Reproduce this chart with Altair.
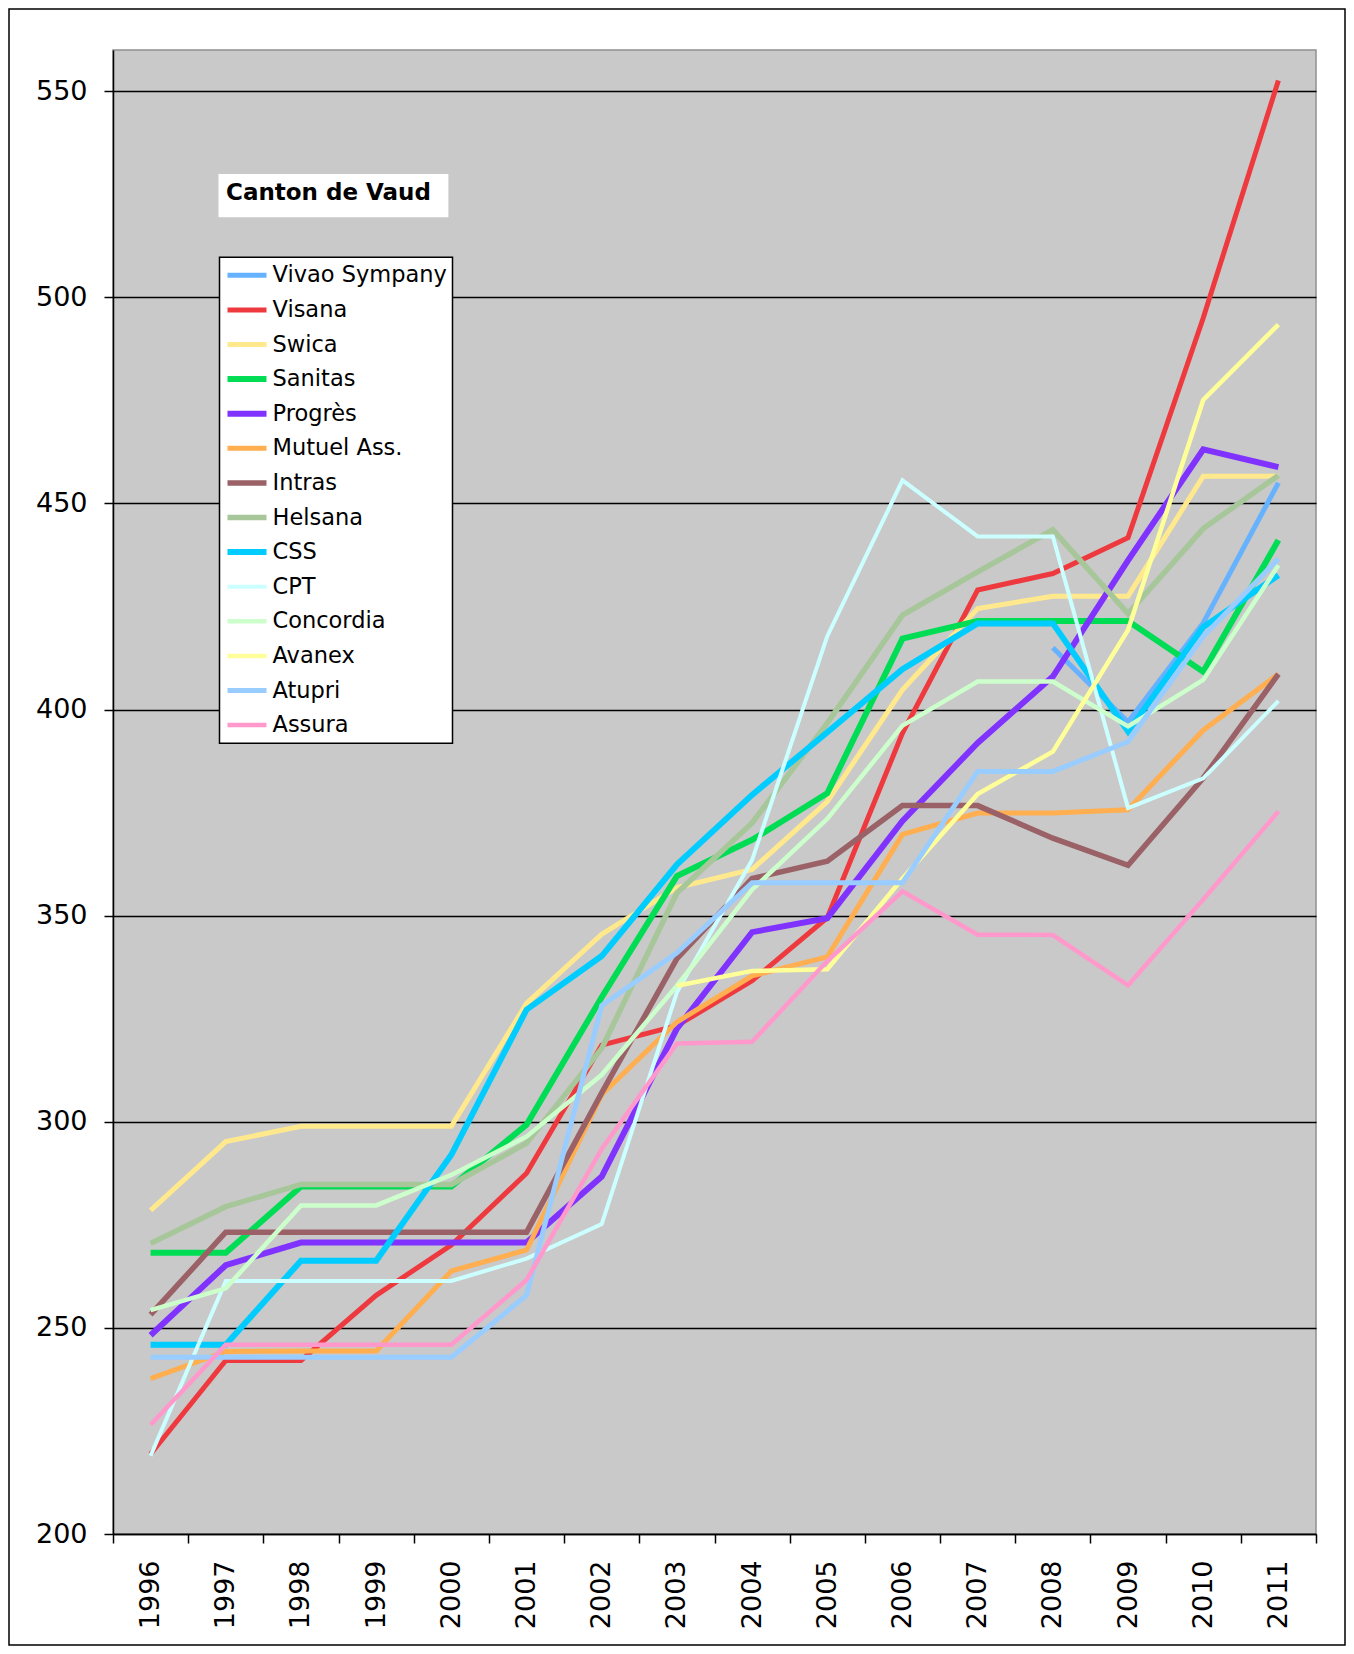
import altair as alt
import pandas as pd

years = [str(y) for y in range(1996, 2012)]

series_names = ["Vivao Sympany", "Visana", "Swica", "Sanitas", "Progrès", "Mutuel Ass.",
                "Intras", "Helsana", "CSS", "CPT", "Concordia", "Avanex", "Atupri", "Assura"]

vivao = [None] * 12 + [415, 397, 421, 455]
visana = [219.4, 242.1, 242.1, 257.9, 270.1, 287.5, 318.6, 323.3, 334.2, 349.5, 394.3, 429, 433, 441.7, 495, 552.6]
swica = [278.5, 295.2, 298.9, 298.9, 298.9, 328.7, 345.5, 356.8, 361.2, 377.7, 404.8, 424.5, 427.5, 427.5, 456.6, 456.6]
sanitas = [268.2, 268.2, 284.3, 284.3, 284.3, 299.3, 330.2, 359.6, 368.4, 379.7, 417.2, 421.5, 421.5, 421.5, 409.2, 441.1]
progres = [248.2, 265.2, 270.7, 270.7, 270.7, 270.7, 286.7, 322.6, 346, 349.4, 373, 391.9, 408, 436.2, 463.1, 458.8]
mutuel = [237.7, 244.3, 244.4, 244.4, 263.8, 268.9, 306.6, 324.2, 335.4, 340, 369.7, 374.9, 374.9, 375.7, 395, 408.6]
intras = [253.2, 273.2, 273.2, 273.2, 273.2, 273.2, 307, 339.6, 359, 363.2, 376.7, 376.7, 368.8, 362.2, 383.4, 408.6]
helsana = [270.5, 279.4, 284.8, 284.8, 284.8, 294.8, 317.8, 355.5, 372.5, 396.7, 422.9, 433.4, 443.6, 423.3, 443.9, 456.8]
css = [245.9, 245.9, 266.3, 266.3, 292.0, 327.2, 340.2, 362.4, 379.3, 394.5, 409.8, 420.9, 420.9, 394.7, 420, 432.6]
cpt = [219.0, 261.4, 261.4, 261.4, 261.4, 266.8, 275.2, 331.4, 363.5, 417.8, 455.6, 442.0, 442.0, 376.1, 383.3, 402.1]
concordia = [254.3, 259.6, 279.7, 279.7, 287.1, 296.4, 311.4, 333, 356.3, 373.5, 396.1, 406.8, 406.8, 395.9, 407.2, 435]
avanex = [None] * 7 + [333, 336.6, 337, 359, 379.5, 389.8, 419.3, 475.1, 493.4]
atupri = [242.9, 242.9, 242.9, 242.9, 242.9, 257.9, 328.2, 341, 358, 358, 358, 385, 385, 392.2, 417.7, 436.6]
assura = [226.5, 245.9, 245.9, 245.9, 245.9, 261.6, 293.4, 319, 319.4, 339, 355.9, 345.4, 345.3, 333.1, 353.9, 375.3]

all_series = [vivao, visana, swica, sanitas, progres, mutuel, intras, helsana,
              css, cpt, concordia, avanex, atupri, assura]

colors = ["#66B2FF", "#EE3A3F", "#FFE98C", "#00DD55", "#8033FF", "#FFAE50", "#9A6166",
          "#A7C79B", "#00CCFF", "#CCFFFF", "#CCFFCC", "#FFFF99", "#99CCFF", "#FF99CC"]
widths = [5, 5, 5, 6, 6, 5, 5.5, 5.5, 6, 4, 4.5, 4.5, 5, 4.5]

y_ticks = [200, 250, 300, 350, 400, 450, 500, 550]
title_text = ["Canton de Vaud"]

rows = []
for name, vals in zip(series_names, all_series):
    for yr, v in zip(years, vals):
        if v is not None:
            rows.append({"Année": yr, "Prime": v, "Caisse": name})
df = pd.DataFrame(rows)

W, H = 1203, 1484
PL, PT, PR, PB = 105, 42, 30, 112
FONT = "DejaVu Sans"

lines = alt.Chart(df).mark_line().encode(
    x=alt.X("Année:O", sort=years,
            scale=alt.Scale(type="band", paddingInner=0, paddingOuter=0),
            axis=alt.Axis(title=None, labelAngle=270, tickBand="extent", grid=False,
                          domainColor="black", domainWidth=1.5, tickColor="black",
                          tickSize=9, tickWidth=1.5, labelFontSize=27, labelFont=FONT,
                          labelColor="black", labelPadding=17)),
    y=alt.Y("Prime:Q",
            scale=alt.Scale(domain=[200, 560], nice=False, zero=False),
            axis=alt.Axis(title=None, values=y_ticks, grid=True, gridColor="black",
                          gridWidth=1.5, domainColor="black", domainWidth=1.5,
                          tickColor="black", tickSize=9, tickWidth=1.5, labelFontSize=27,
                          labelFont=FONT, labelColor="black", labelPadding=17)),
    color=alt.Color("Caisse:N",
                    scale=alt.Scale(domain=series_names, range=colors),
                    legend=alt.Legend(title=None, orient="none", legendX=106.5, legendY=207.3,
                                      fillColor="white", strokeColor="black",
                                      padding=5, symbolType="stroke", symbolSize=1521,
                                      symbolStrokeWidth=5, labelFontSize=22.5, labelFont=FONT,
                                      labelColor="black", labelOffset=3, rowPadding=8.6,
                                      clipHeight=26, labelLimit=400)),
    strokeWidth=alt.StrokeWidth("Caisse:N",
                                scale=alt.Scale(type="ordinal", domain=series_names, range=widths),
                                legend=None),
)

title_df = pd.DataFrame({"t": title_text})
box = alt.Chart(title_df).mark_rect(color="white").encode(
    x=alt.value(105.5), x2=alt.value(335.4), y=alt.value(124), y2=alt.value(167.2))
txt = alt.Chart(title_df).mark_text(align="left", baseline="middle", fontSize=23,
                                    fontWeight="bold", font=FONT, color="black").encode(
    x=alt.value(113), y=alt.value(143), text="t:N")
border = alt.Chart(title_df).mark_rect(filled=False, stroke="black", strokeWidth=1.5).encode(
    x=alt.value(-PL + 1), x2=alt.value(W + PR - 1), y=alt.value(-PT + 1), y2=alt.value(H + PB - 1))

chart = alt.layer(box, txt, lines, border).properties(
    width=W, height=H,
    padding={"left": PL, "top": PT, "right": PR, "bottom": PB},
    autosize=alt.AutoSizeParams(type="none"),
    background="white",
).configure_view(
    fill="#C9C9C9", stroke="#909090", strokeWidth=1.5
).configure_legend(
    strokeWidth=1.5
)

chart.save("out.html", embed_options={"renderer": "svg", "actions": False})
